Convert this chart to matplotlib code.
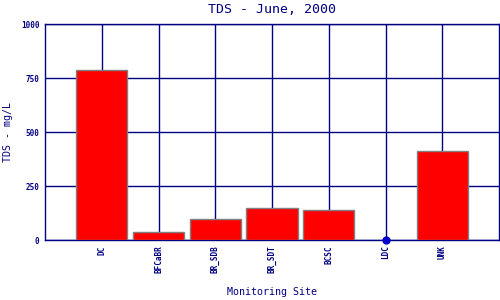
import numpy as np
import matplotlib.pyplot as plt

OUT_FILE = "out.png"

sites = ["DC", "BFCaBR", "BR_SDB", "BR_SDT", "BCSC", "LDC", "UNK"]
tds = [785, 37, 96, 147, 137, 0, 411]
y_ticks = [0, 250, 500, 750, 1000]

NAVY = "#000080"

fig = plt.figure(figsize=(5, 3), dpi=100)
ax = fig.add_axes([0.09, 0.2, 0.908, 0.72])

x = np.arange(1, len(sites) + 1)
vals = np.array(tds, dtype=float)

# bars for non-zero values, dot for zero
nz = vals > 0
ax.bar(x[nz], vals[nz], width=0.9, color="red", edgecolor="gray",
       linewidth=1.0, zorder=3)
ax.plot(x[~nz], vals[~nz], "o", color="#0000cc", markersize=5,
        clip_on=False, zorder=4)

ax.set_xlim(0, len(sites) + 1)
ax.set_ylim(0, 1000)
ax.set_xticks(x)
ax.set_xticklabels(sites, rotation=90, fontsize=5.5, fontweight="bold",
                   color=NAVY, family="DejaVu Sans Mono")
ax.set_yticks(y_ticks)
ax.set_yticklabels([str(t) for t in y_ticks], fontsize=5.5,
                   fontweight="bold", color=NAVY, family="DejaVu Sans Mono")
ax.tick_params(length=0, pad=4)

ax.grid(True, color=NAVY, linewidth=1.0, zorder=0)
ax.set_axisbelow(True)
for s in ax.spines.values():
    s.set_color(NAVY)
    s.set_linewidth(1.0)

ax.set_title("TDS - June, 2000", fontsize=9.5, color=NAVY,
             family="DejaVu Sans Mono", pad=8)
ax.set_xlabel("Monitoring Site", fontsize=7.2, color=NAVY,
              family="DejaVu Sans Mono", labelpad=10)
ax.set_ylabel("TDS - mg/L", fontsize=7.2, color=NAVY,
              family="DejaVu Sans Mono", labelpad=6)

fig.savefig(OUT_FILE, dpi=100)
